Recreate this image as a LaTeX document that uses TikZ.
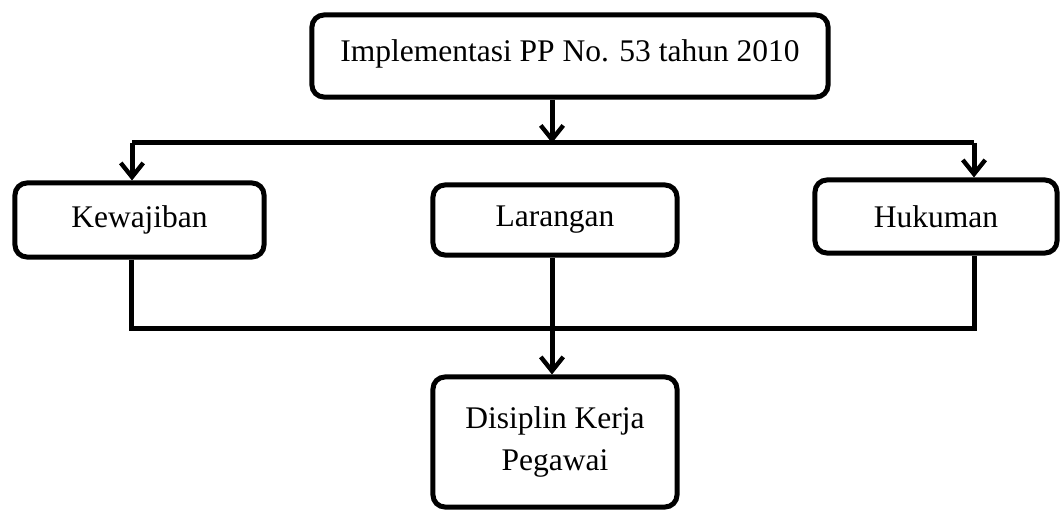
\documentclass[tikz,border=0pt]{standalone}
\usepackage{fontspec}
\setmainfont{Liberation Serif}
\usetikzlibrary{arrows.meta}

\tikzset{
  kotak/.style={draw, line width=0.125cm, rounded corners=0.3cm, inner sep=0pt,
    font=\fontsize{22.4}{30.5}\selectfont, align=center},
  garis/.style={line width=0.125cm},
  panah/.style={garis, -{Straight Barb[length=10pt,width=16pt,line width=0.11cm]}}
}

\begin{document}
\begin{tikzpicture}[x=0.025cm, y=-0.025cm]
        \useasboundingbox (0,0) rectangle (1060,510);
        % kotak-kotak
        \node[kotak, minimum width=12.9cm, text height=1.175cm, text depth=0.875cm] (impl) at (570,56) {Implementasi PP No. 53 tahun 2010};
        \node[kotak, minimum width=6.225cm, minimum height=1.85cm] (kew) at (139.5,220) {Kewajiban};
        \node[kotak, minimum width=6.1cm, minimum height=1.75cm] (lar) at (555,220) {Larangan};
        \node[kotak, minimum width=6.05cm, minimum height=1.825cm] (huk) at (936,216.5) {Hukuman};
        \node[kotak, minimum width=6.1cm, minimum height=3.25cm] (dis) at (555,442) {Disiplin Kerja\\Pegawai};

        % titik cabang
        \coordinate (jt) at (552,143);
        \coordinate (jl) at (132,143);
        \coordinate (jr) at (974,143);
        \coordinate (bl) at (131,329);
        \coordinate (br) at (974,329);

        % panah atas
        \draw[panah] (impl.south -| jt) -- (jt);
        \draw[garis] (jl) -- (jr);
        \draw[panah] (jl) -- (kew.north -| jl);
        \draw[panah] (jr) -- (huk.north -| jr);

        % panah bawah
        \draw[garis] (kew.south -| bl) -- (bl) -- (br) -- (huk.south -| br);
        \draw[panah] (lar.south -| jt) -- (dis.north -| jt);
\end{tikzpicture}
\end{document}
